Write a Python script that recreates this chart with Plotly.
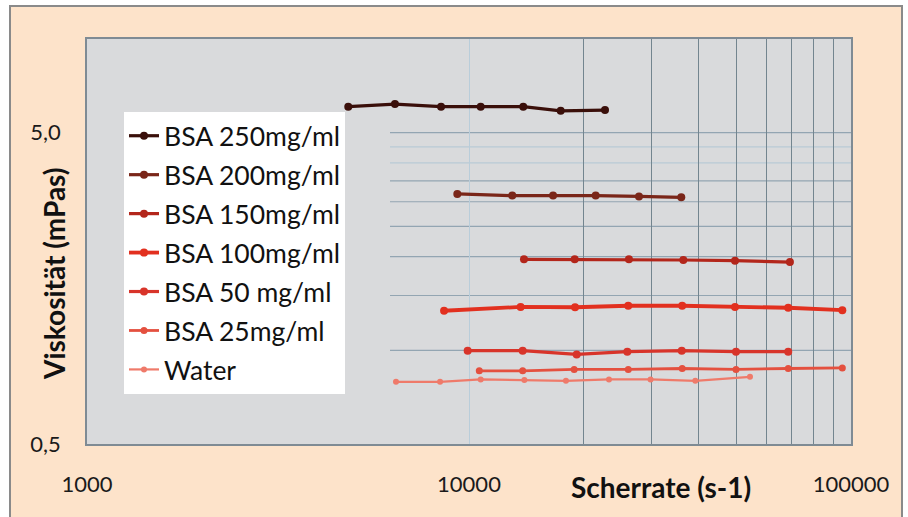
import plotly.graph_objects as go

# ---------------- data ----------------
series_names = ["BSA 250mg/ml", "BSA 200mg/ml", "BSA 150mg/ml", "BSA 100mg/ml",
                "BSA 50 mg/ml", "BSA 25mg/ml", "Water"]

x_250 = [4830, 6400, 8450, 10730, 13870, 17380, 22700]
y_250 = [6.06, 6.18, 6.06, 6.06, 6.06, 5.88, 5.91]

x_200 = [9320, 12980, 16600, 21460, 27860, 35950]
y_200 = [3.18, 3.14, 3.14, 3.14, 3.12, 3.10]

x_150 = [13930, 18910, 26220, 36400, 49700, 69200]
y_150 = [1.96, 1.96, 1.96, 1.95, 1.94, 1.92]

x_100 = [8605, 13650, 18950, 26120, 36150, 49700, 68500, 94900]
y_100 = [1.34, 1.378, 1.375, 1.39, 1.39, 1.378, 1.37, 1.345]

x_50 = [9920, 13820, 19140, 25970, 36050, 50000, 68500]
y_50 = [0.997, 0.997, 0.97, 0.99, 0.997, 0.99, 0.99]

x_25 = [10640, 13820, 18850, 26120, 36150, 50000, 68500, 94900]
y_25 = [0.859, 0.859, 0.868, 0.868, 0.874, 0.868, 0.874, 0.878]

x_w = [6440, 8400, 10730, 13960, 17940, 23250, 29870, 39120, 54400]
y_w = [0.792, 0.792, 0.806, 0.802, 0.798, 0.806, 0.806, 0.798, 0.822]

xs = [x_250, x_200, x_150, x_100, x_50, x_25, x_w]
ys = [y_250, y_200, y_150, y_100, y_50, y_25, y_w]

x_tick_vals = [1000, 10000, 100000]
x_tick_text = ["1000", "10000", "100000"]
x_minor_vals = [20000, 30000, 40000, 50000, 60000, 70000, 80000, 90000]
y_tick_vals = [0.5, 5]
y_tick_text = ["0,5", "5,0"]
y_grid_dark = [1, 1.5, 2, 2.5, 3, 3.5, 5]
y_grid_light = [4, 4.5]

# ---------------- style ----------------
colors = ["#3a0f0a", "#7a2619", "#b3261b", "#e2301f", "#d8342a", "#e4503f", "#ef7a6a"]
widths = [3.2, 3.2, 3.2, 3.8, 3.2, 2.8, 2.2]
msizes = [8, 8, 8, 8, 8, 7, 6]
FONT = "Lato"

fig = go.Figure()
for i, name in enumerate(series_names):
    fig.add_trace(go.Scatter(
        x=xs[i], y=ys[i], name=name, mode="lines+markers",
        legendgroup=name,
        line=dict(color=colors[i], width=widths[i]),
        marker=dict(color=colors[i], size=msizes[i]),
    ))

W, H = 908, 517
L, R, T, B = 87, 57, 39, 73
pw, ph = W - L - R, H - T - B

def px2paper_x(px):
    return (px - L) / pw

def px2paper_y(py):
    return (T + ph - py) / ph

shapes = []
# outer peach frame
shapes.append(dict(type="rect", xref="paper", yref="paper",
                   x0=px2paper_x(10), x1=px2paper_x(902),
                   y0=px2paper_y(522), y1=px2paper_y(6),
                   fillcolor="#fde3ca", line=dict(color="#8a8a8a", width=2),
                   layer="below"))
# gray plot area
shapes.append(dict(type="rect", xref="paper", yref="paper",
                   x0=0, x1=1, y0=0, y1=1,
                   fillcolor="#d9dadc", line=dict(width=0), layer="below"))
# horizontal gridlines (start right of legend)
for v in y_grid_dark:
    shapes.append(dict(type="line", xref="paper", yref="y",
                       x0=px2paper_x(390), x1=1, y0=v, y1=v,
                       line=dict(color="#93a5b2", width=1.2), layer="below"))
for v in y_grid_light:
    shapes.append(dict(type="line", xref="paper", yref="y",
                       x0=px2paper_x(390), x1=1, y0=v, y1=v,
                       line=dict(color="#b8cad6", width=1.2), layer="below"))

fig.update_layout(
    width=W, height=H, autosize=False,
    margin=dict(l=L, r=R, t=T, b=B, pad=0),
    paper_bgcolor="white",
    plot_bgcolor="rgba(0,0,0,0)",
    shapes=shapes,
    font=dict(family=FONT, color="#1a1a1a"),
    showlegend=True,
    legend=dict(
        x=px2paper_x(124), y=px2paper_y(112), xanchor="left", yanchor="top",
        bgcolor="white", borderwidth=0,
        font=dict(family=FONT, size=26.5, color="#111111"),
        tracegroupgap=1.5, itemwidth=30,
    ),
    annotations=[
        dict(text="<b>Viskosität (mPas)</b>", textangle=-90,
             xref="paper", yref="paper", x=px2paper_x(54), y=px2paper_y(274),
             xanchor="center", yanchor="middle", showarrow=False,
             font=dict(family=FONT, size=28, color="#111111")),
        dict(text="<b>Scherrate (s-1)</b>",
             xref="paper", yref="paper", x=px2paper_x(661), y=px2paper_y(487),
             xanchor="center", yanchor="middle", showarrow=False,
             font=dict(family=FONT, size=28, color="#111111")),
    ],
)

fig.update_xaxes(
    type="log", range=[3, 5],
    tickvals=x_tick_vals, ticktext=x_tick_text,
    tickfont=dict(family=FONT, size=22, color="#1a1a1a"),
    ticks="", ticklabelstandoff=20,
    showgrid=True, gridcolor="#b9cdda", gridwidth=1.2,
    minor=dict(tickvals=x_minor_vals, showgrid=True, gridcolor="#73858f",
               gridwidth=1.2, ticks=""),
    showline=True, linecolor="#7f8b94", linewidth=1.5, mirror=True,
    zeroline=False,
)
fig.update_yaxes(
    type="log", range=[-0.30103, 1.0],
    tickvals=y_tick_vals, ticktext=y_tick_text,
    tickfont=dict(family=FONT, size=22, color="#1a1a1a"),
    ticks="", ticklabelstandoff=20,
    showgrid=False,
    showline=True, linecolor="#7f8b94", linewidth=1.5, mirror=True,
    zeroline=False,
)

fig.write_html("out.html")
